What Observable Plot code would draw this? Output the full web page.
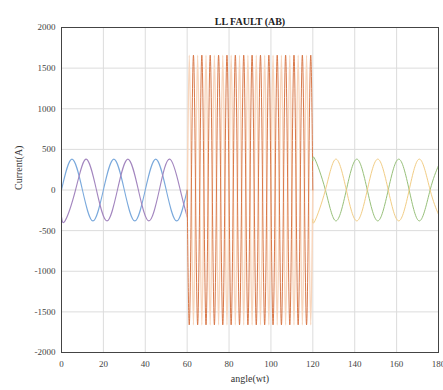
<!DOCTYPE html>
<html>
<head>
<meta charset="utf-8">
<script src="https://cdn.jsdelivr.net/npm/d3@7"></script>
<script src="https://cdn.jsdelivr.net/npm/@observablehq/plot@0.6"></script>
<style>
  html, body { margin: 0; padding: 0; background: #fff; }
  #chart { width: 443px; height: 390px; }
</style>
</head>
<body>
<div id="chart"></div>
<script>
// ---- data (angle, current) ----
const title = "LL FAULT (AB)";
const xLabel = "angle(wt)";
const yLabel = "Current(A)";
const xTicks = [0, 20, 40, 60, 80, 100, 120, 140, 160, 180];
const yTicks = [-2000, -1500, -1000, -500, 0, 500, 1000, 1500, 2000];

// pre-fault phase currents (peaks / zero crossings)
const preA = [[0,0],[5,380],[10,0],[15,-380],[20,0],[25,380],[30,0],[35,-380],[40,0],[45,380],[50,0],[55,-380],[60,0]];
const preB = [[0,-330],[1.7,-380],[6.7,0],[11.7,380],[16.7,0],[21.7,-380],[26.7,0],[31.7,380],[36.7,0],[41.7,-380],[46.7,0],[51.7,380],[56.7,0],[60,-330]];

// fault currents (peaks / troughs)
const faultA = [[60,0],[61,-1660],[63,1660],[65,-1660],[67,1660],[69,-1660],[71,1660],[73,-1660],[75,1660],[77,-1660],[79,1660],[81,-1660],[83,1660],[85,-1660],[87,1660],[89,-1660],[91,1660],[93,-1660],[95,1660],[97,-1660],[99,1660],[101,-1660],[103,1660],[105,-1660],[107,1660],[109,-1660],[111,1660],[113,-1660],[115,1660],[117,-1660],[119,1660],[120,0]];
const faultB = [[60,-330],[61,1660],[63,-1660],[65,1660],[67,-1660],[69,1660],[71,-1660],[73,1660],[75,-1660],[77,1660],[79,-1660],[81,1660],[83,-1660],[85,1660],[87,-1660],[89,1660],[91,-1660],[93,1660],[95,-1660],[97,1660],[99,-1660],[101,1660],[103,-1660],[105,1660],[107,-1660],[109,1660],[111,-1660],[113,1660],[115,-1660],[117,1660],[119,-1660],[120,0]];

// post-fault phase currents
const postA = [[120,360],[121,380],[126,0],[131,-380],[136,0],[141,380],[146,0],[151,-380],[156,0],[161,380],[166,0],[171,-380],[176,0],[180,300]];
const postB = [[120,-360],[121,-380],[126,0],[131,380],[136,0],[141,-380],[146,0],[151,380],[156,0],[161,-380],[166,0],[171,380],[176,0],[180,-300]];

const toRows = (pts) => pts.map(([x, y]) => ({x, y}));

const font = "'Liberation Serif', 'Times New Roman', serif";

const chart = Plot.plot({
  width: 443,
  height: 390,
  marginTop: 27,
  marginBottom: 38,
  marginLeft: 61,
  marginRight: 5,
  style: { fontFamily: font, fontSize: "9px", color: "#333", background: "#fff" },
  x: { type: "linear", domain: [0, 180], label: null },
  y: { type: "linear", domain: [-2000, 2000], label: null },
  marks: [
    Plot.gridX({ ticks: xTicks, stroke: "#dcdcdc", strokeOpacity: 1 }),
    Plot.gridY({ ticks: yTicks, stroke: "#dcdcdc", strokeOpacity: 1 }),
    Plot.axisX({ ticks: xTicks, tickFormat: d => String(d), tickSize: 0, tickPadding: 8, fontSize: 9, label: null, fill: "#444" }),
    Plot.axisY({ ticks: yTicks, tickFormat: d => String(d), tickSize: 0, tickPadding: 6, fontSize: 9, label: null, fill: "#444" }),
    Plot.lineY(toRows(preA), { x: "x", y: "y", stroke: "#7aa9dc", strokeWidth: 1.1, curve: "natural" }),
    Plot.lineY(toRows(preB), { x: "x", y: "y", stroke: "#a386bf", strokeWidth: 1.1, curve: "natural" }),
    Plot.lineY(toRows(faultB), { x: "x", y: "y", stroke: "#f8d6bd", strokeWidth: 1.5, curve: "monotone-x" }),
    Plot.lineY(toRows(faultA), { x: "x", y: "y", stroke: "#d9794a", strokeWidth: 1, curve: "monotone-x" }),
    Plot.lineY(toRows(postA), { x: "x", y: "y", stroke: "#97c07a", strokeWidth: 1, curve: "natural" }),
    Plot.lineY(toRows(postB), { x: "x", y: "y", stroke: "#f2cd85", strokeWidth: 1, curve: "natural" }),
    Plot.frame({ stroke: "#444", strokeWidth: 1 }),
    Plot.text([title], { frameAnchor: "top", dy: -10, fontWeight: "bold", fontSize: 10, fill: "#222" }),
    Plot.text([xLabel], { frameAnchor: "bottom", dy: 29, fontSize: 10, fill: "#333" }),
    Plot.text([yLabel], { frameAnchor: "left", dx: -43, rotate: -90, fontSize: 10, fill: "#333" })
  ]
});
document.getElementById("chart").appendChild(chart);
</script>
</body>
</html>
